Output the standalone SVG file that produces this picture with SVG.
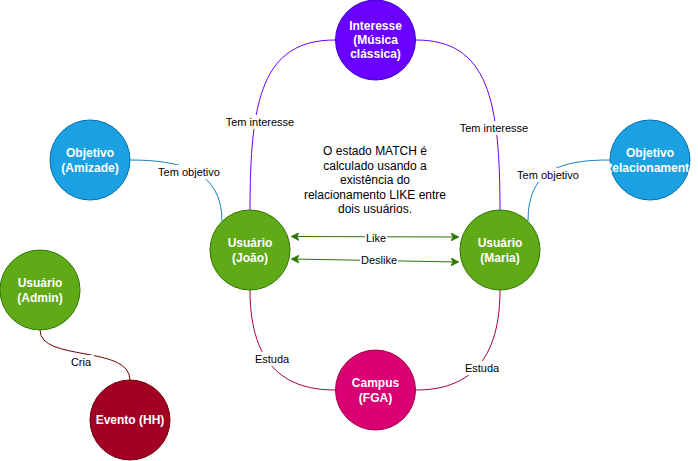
<svg xmlns="http://www.w3.org/2000/svg" width="698" height="461" viewBox="0 0 698 461">
<defs>
<style>
.node text{font-family:"Liberation Sans",Arial,sans-serif;font-size:12px;font-weight:bold;fill:#ffffff;text-anchor:middle;dominant-baseline:central}
.edge{fill:none;stroke-width:1}
.lbl{font-family:"Liberation Sans",Arial,sans-serif;font-size:11px;fill:#000000;text-anchor:middle;dominant-baseline:central}
.note{font-family:"Liberation Sans",Arial,sans-serif;font-size:12px;fill:#000000;text-anchor:middle;dominant-baseline:central}
.bg{fill:#ffffff}
</style>
<marker id="arrG" viewBox="0 0 10 10" refX="9" refY="5" markerWidth="8" markerHeight="8" orient="auto-start-reverse" markerUnits="userSpaceOnUse">
<path d="M0,0 L10,5 L0,10 L3,5 Z" fill="#2D7600" stroke="#2D7600"/>
</marker>
</defs>
<rect width="698" height="461" fill="#ffffff"/>
<g id="connectors">
<path class="edge" stroke="#6a00ff" d="M335,40 C262,40 250,100 250,210"/>
<path class="edge" stroke="#6a00ff" d="M416,40 C488,40 500,100 500,210"/>
<path class="edge" stroke="#1b7fc0" d="M130,160 C180,160 222,170 222,221"/>
<path class="edge" stroke="#1b7fc0" d="M610,160 C560,160 528,170 528,221"/>
<path class="edge" stroke="#A50040" d="M250,290 C250,370 290,390 335,390"/>
<path class="edge" stroke="#A50040" d="M500,290 C500,370 460,390 416,390"/>
<path class="edge" stroke="#6F0000" d="M40,330 C40,362 130,345 130,380"/>
<path class="edge" stroke="#2D7600" d="M292,236.5 L458,237" marker-start="url(#arrG)" marker-end="url(#arrG)"/>
<path class="edge" stroke="#2D7600" d="M292,259 L458,262" marker-start="url(#arrG)" marker-end="url(#arrG)"/>
<rect class="bg" x="224" y="115" width="72" height="14"/>
<text class="lbl" x="260" y="122">Tem interesse</text>
<rect class="bg" x="458" y="121" width="72" height="14"/>
<text class="lbl" x="494" y="128">Tem interesse</text>
<rect class="bg" x="156" y="165" width="66" height="14"/>
<text class="lbl" x="189" y="172">Tem objetivo</text>
<rect class="bg" x="515" y="168" width="66" height="14"/>
<text class="lbl" x="548" y="175">Tem objetivo</text>
<rect class="bg" x="253" y="352" width="38" height="14"/>
<text class="lbl" x="272" y="359">Estuda</text>
<rect class="bg" x="463" y="361" width="38" height="14"/>
<text class="lbl" x="482" y="368">Estuda</text>
<rect class="bg" x="70" y="355" width="24" height="14"/>
<text class="lbl" x="81" y="362">Cria</text>
<rect class="bg" x="365" y="231" width="22" height="14"/>
<text class="lbl" x="376" y="238">Like</text>
<rect class="bg" x="360" y="253" width="38" height="14"/>
<text class="lbl" x="379" y="260">Deslike</text>
</g>
<g id="note">
<text class="note" x="375" y="151">O estado MATCH é</text>
<text class="note" x="375" y="165.5">calculado usando a</text>
<text class="note" x="375" y="180">existência do</text>
<text class="note" x="375" y="194.5">relacionamento LIKE entre</text>
<text class="note" x="375" y="209">dois usuários.</text>
</g>
<g id="interesse" class="node">
<circle cx="375.5" cy="40" r="40" fill="#6a00ff" stroke="#3700CC"/>
<text x="375.5" y="26">Interesse</text>
<text x="375.5" y="40">(Música</text>
<text x="375.5" y="54">clássica)</text>
</g>
<g id="joao" class="node">
<circle cx="250" cy="250" r="40" fill="#60a917" stroke="#2D7600"/>
<text x="250" y="243">Usuário</text>
<text x="250" y="258">(João)</text>
</g>
<g id="maria" class="node">
<circle cx="500" cy="250" r="40" fill="#60a917" stroke="#2D7600"/>
<text x="500" y="243">Usuário</text>
<text x="500" y="258">(Maria)</text>
</g>
<g id="amizade" class="node">
<circle cx="90" cy="160" r="40" fill="#1ba1e2" stroke="#006EAF"/>
<text x="90" y="153">Objetivo</text>
<text x="90" y="168">(Amizade)</text>
</g>
<g id="relacionamento" class="node">
<circle cx="650" cy="160" r="40" fill="#1ba1e2" stroke="#006EAF"/>
<text x="650" y="153">Objetivo</text>
<text x="650" y="168">(Relacionamento)</text>
</g>
<g id="admin" class="node">
<circle cx="40" cy="290" r="40" fill="#60a917" stroke="#2D7600"/>
<text x="40" y="283">Usuário</text>
<text x="40" y="298">(Admin)</text>
</g>
<g id="evento" class="node">
<circle cx="130" cy="420" r="40" fill="#a20025" stroke="#6F0000"/>
<text x="130" y="420">Evento (HH)</text>
</g>
<g id="campus" class="node">
<circle cx="375.5" cy="390" r="40" fill="#d80073" stroke="#A50040"/>
<text x="375.5" y="383">Campus</text>
<text x="375.5" y="398">(FGA)</text>
</g>
</svg>
